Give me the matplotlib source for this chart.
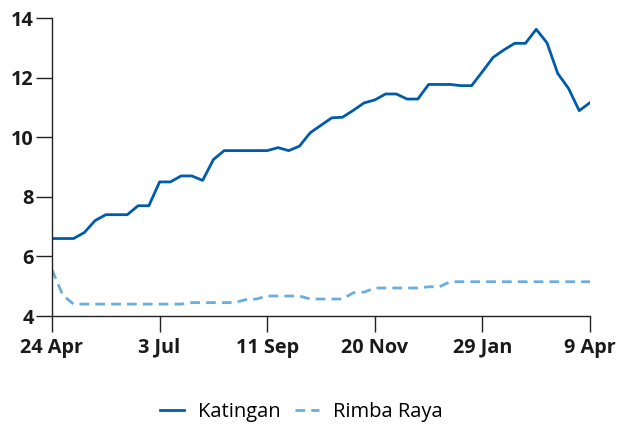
import matplotlib
matplotlib.use("Agg")
import matplotlib.pyplot as plt
import matplotlib.dates as mdates
import pandas as pd

# ===========================
# Data (weekly)
# ===========================

start_date = "2022-04-24"
n_weeks = 51

katingan = [
    6.6, 6.6, 6.6, 6.8, 7.2, 7.4, 7.4, 7.4, 7.7, 7.7,
    8.5, 8.5, 8.7, 8.7, 8.55, 9.25, 9.55, 9.55, 9.55, 9.55,
    9.55, 9.65, 9.55, 9.7, 10.15, 10.4, 10.65, 10.67, 10.9, 11.15,
    11.25, 11.45, 11.45, 11.28, 11.28, 11.77, 11.77, 11.77, 11.73, 11.73,
    12.2, 12.68, 12.93, 13.15, 13.15, 13.62, 13.17, 12.14, 11.64, 10.89,
    11.16,
]

rimba_raya = [
    5.55, 4.7, 4.4, 4.4, 4.4, 4.4, 4.4, 4.4, 4.4, 4.4,
    4.4, 4.4, 4.4, 4.45, 4.45, 4.45, 4.45, 4.45, 4.55, 4.57,
    4.67, 4.67, 4.67, 4.67, 4.57, 4.57, 4.57, 4.57, 4.78, 4.8,
    4.94, 4.94, 4.94, 4.94, 4.94, 4.98, 4.98, 5.15, 5.15, 5.15,
    5.15, 5.15, 5.15, 5.15, 5.15, 5.15, 5.15, 5.15, 5.15, 5.15,
    5.15,
]

y_ticks = [4, 6, 8, 10, 12, 14]

dates = pd.date_range(start_date, periods=n_weeks, freq="7D")
x_ticks = pd.date_range(dates[0], dates[-1], freq="70D")

# ===========================
# Plot
# ===========================

plt.rcParams["font.family"] = ["Open Sans", "DejaVu Sans"]

fig = plt.figure(figsize=(6.22, 4.24), dpi=100)
ax = fig.add_axes([52 / 622, 1 - 316 / 424, 538 / 622, 298 / 424])

ax.plot(dates, katingan, color="#005ca8", lw=2.0, label="Katingan")
ax.plot(dates, rimba_raya, color="#6cadde", lw=2.0, ls=(0, (3.5, 2.2)),
        label="Rimba Raya")

ax.set_xlim(dates[0], dates[-1])
ax.set_ylim(4, 14)
ax.set_yticks(y_ticks)
ax.set_xticks(x_ticks)
ax.xaxis.set_major_formatter(mdates.DateFormatter("%-d %b"))

for s in ["top", "right"]:
    ax.spines[s].set_visible(False)
for s in ["left", "bottom"]:
    ax.spines[s].set_color("#222222")
    ax.spines[s].set_linewidth(1.0)

ax.tick_params(axis="both", length=11.5, width=1.0, color="#222222",
               labelsize=14.3, labelcolor="#1a1a1a")
ax.tick_params(axis="x", pad=4)
ax.tick_params(axis="y", pad=1.5)
for lbl in ax.get_xticklabels() + ax.get_yticklabels():
    lbl.set_fontweight("bold")

fig.legend(loc="center", bbox_to_anchor=(0.484, 0.028), ncol=2,
           frameon=False, fontsize=14.5, handlelength=1.2,
           columnspacing=0.7, handletextpad=0.7)

fig.savefig("out.png", dpi=100)
